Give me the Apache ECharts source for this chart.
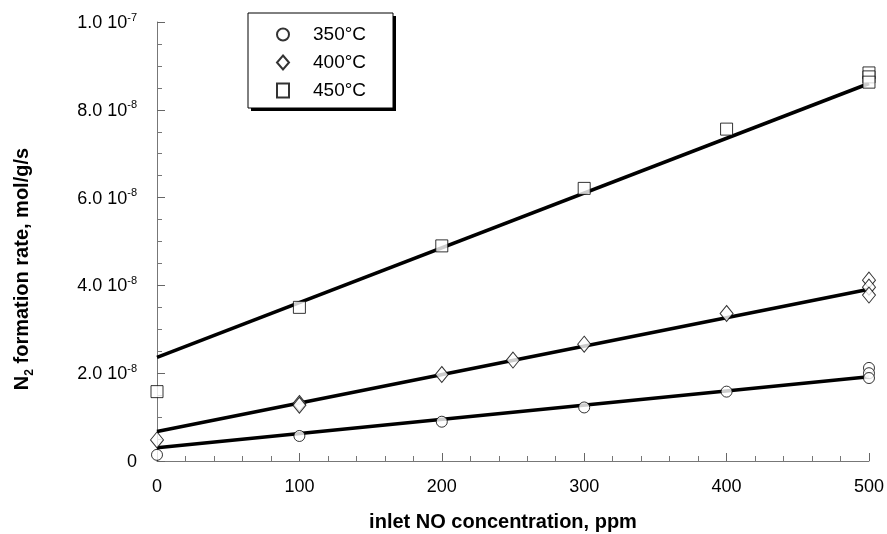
<!DOCTYPE html>
<html>
<head>
<meta charset="utf-8">
<script src="https://cdn.jsdelivr.net/npm/echarts@6/dist/echarts.min.js"></script>
<style>
  html, body { margin: 0; padding: 0; background: #fff; }
  #chart { width: 887px; height: 534px; }
</style>
</head>
<body>
<div id="chart"></div>
<script>
// Measured N2 formation rates (mol/g/s) versus inlet NO (ppm)
const seriesNames = ['350°C', '400°C', '450°C'];

const no350 = [0, 100, 200, 300, 400, 500, 500, 500];
const rate350 = [1.4e-9, 5.7e-9, 8.95e-9, 1.22e-8, 1.58e-8, 2.12e-8, 2.0e-8, 1.89e-8];

const no400 = [0, 100, 100, 200, 250, 300, 400, 500, 500, 500];
const rate400 = [4.8e-9, 1.31e-8, 1.27e-8, 1.97e-8, 2.3e-8, 2.66e-8, 3.36e-8, 4.12e-8, 3.96e-8, 3.78e-8];

const no450 = [0, 100, 200, 300, 400, 500, 500, 500];
const rate450 = [1.58e-8, 3.5e-8, 4.9e-8, 6.21e-8, 7.56e-8, 8.84e-8, 8.75e-8, 8.63e-8];

// Linear fits: value at 0 ppm and at 500 ppm
const fitX = [0, 500];
const fit350 = [3.0e-9, 1.92e-8];
const fit400 = [6.7e-9, 3.91e-8];
const fit450 = [2.36e-8, 8.6e-8];

const symbols = ['circle', 'diamond', 'rect'];
const symbolSizes = [11, [13, 16], 12];

const xTicks = { min: 0, max: 500, interval: 100 };
const yTicks = { min: 0, max: 1e-7, interval: 2e-8 };

const xTitle = 'inlet NO concentration, ppm';
const yTitle = '{n|N}{s|2}{n| formation rate, mol/g/s}';

const FONT = '"Liberation Sans", Arial, sans-serif';

function pairs(xs, ys) { return xs.map((x, i) => [x, ys[i]]); }

function yLabel(v) {
  if (Math.abs(v) < 1e-15) return '{m|0}';
  const e = Math.floor(Math.log10(v) + 1e-9);
  const m = (v / Math.pow(10, e)).toFixed(1);
  return '{m|' + m + ' 10}{e|' + e + '}';
}

const pointSets = [pairs(no350, rate350), pairs(no400, rate400), pairs(no450, rate450)];
const fitSets = [fit350, fit400, fit450];

const series = [];
fitSets.forEach((f, i) => {
  series.push({
    type: 'line',
    name: 'fit ' + seriesNames[i],
    data: pairs(fitX, f),
    symbol: 'none',
    silent: true,
    lineStyle: { color: '#000', width: 3.6 },
    z: 2
  });
});
pointSets.forEach((d, i) => {
  series.push({
    type: 'scatter',
    name: seriesNames[i],
    data: d,
    symbol: symbols[i],
    symbolSize: symbolSizes[i],
    itemStyle: { color: '#fff', borderColor: '#000', borderWidth: 1 },
    z: 3
  });
});

const chart = echarts.init(document.getElementById('chart'), null, { renderer: 'canvas' });
chart.setOption({
  animation: false,
  backgroundColor: '#fff',
  grid: { left: 157, right: 16, top: 22, bottom: 73, containLabel: false },
  legend: {
    data: seriesNames,
    orient: 'vertical',
    left: 248,
    top: 13,
    padding: [12, 30, 12, 28],
    itemWidth: 12,
    itemHeight: 14,
    itemGap: 9,
    z: 10,
    textStyle: { fontFamily: FONT, fontSize: 19, color: '#000', padding: [0, 0, 0, 19] }
  },
  xAxis: {
    type: 'value',
    min: xTicks.min, max: xTicks.max, interval: xTicks.interval,
    axisLine: { show: true, lineStyle: { color: '#777', width: 1 } },
    axisTick: { show: true, inside: true, length: 8, lineStyle: { color: '#666' } },
    minorTick: { show: true, splitNumber: 5, length: 5, lineStyle: { color: '#777' } },
    splitLine: { show: false },
    axisLabel: { fontFamily: FONT, fontSize: 18, color: '#000', margin: 17 }
  },
  yAxis: {
    type: 'value',
    min: yTicks.min, max: yTicks.max, interval: yTicks.interval,
    axisLine: { show: true, lineStyle: { color: '#777', width: 1 } },
    axisTick: { show: true, inside: true, length: 8, lineStyle: { color: '#666' } },
    minorTick: { show: true, splitNumber: 4, length: 5, lineStyle: { color: '#777' } },
    splitLine: { show: false },
    axisLabel: {
      margin: 20,
      formatter: yLabel,
      rich: {
        m: { fontFamily: FONT, fontSize: 18, color: '#000', lineHeight: 20, verticalAlign: 'bottom' },
        e: { fontFamily: FONT, fontSize: 11, color: '#000', lineHeight: 20, verticalAlign: 'top', padding: [0, 0, 8, 0] }
      }
    }
  },
  graphic: [
    // legend frame with a solid drop shadow
    { type: 'rect', z: 1, shape: { x: 251, y: 16, width: 145, height: 95 }, style: { fill: '#000' } },
    { type: 'rect', z: 2, shape: { x: 248, y: 13, width: 145, height: 95 }, style: { fill: '#fff', stroke: '#000', lineWidth: 1 } },
    {
      type: 'text', z: 5,
      x: 503, y: 522,
      style: {
        text: xTitle, align: 'center', verticalAlign: 'middle',
        fontFamily: FONT, fontSize: 20, fontWeight: 'bold', fill: '#000'
      }
    },
    {
      type: 'text', z: 5,
      x: 24, y: 269,
      rotation: Math.PI / 2,
      style: {
        text: yTitle,
        align: 'center',
        verticalAlign: 'middle',
        rich: {
          n: { fontFamily: FONT, fontSize: 20, fontWeight: 'bold', fill: '#000', lineHeight: 24, verticalAlign: 'top' },
          s: { fontFamily: FONT, fontSize: 12, fontWeight: 'bold', fill: '#000', lineHeight: 24, verticalAlign: 'bottom', padding: [7, 0, 0, 0] }
        }
      }
    }
  ],
  series: series
});
</script>
</body>
</html>
